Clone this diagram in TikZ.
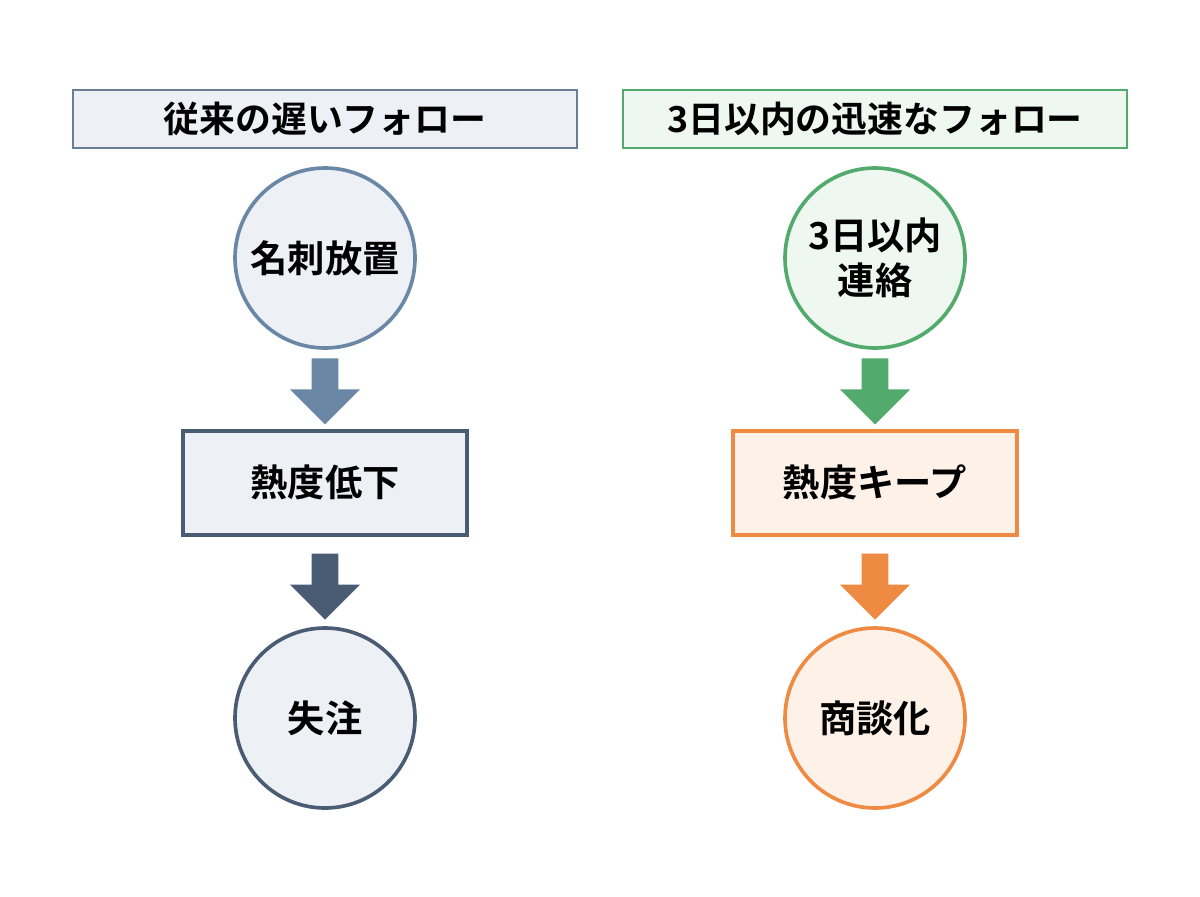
\documentclass[tikz,border=0pt]{standalone}
\usepackage{fontspec}
\setmainfont{Noto Sans CJK JP}[BoldFont={Noto Sans CJK JP Bold}]
\usetikzlibrary{shapes.arrows}
\definecolor{grayfill}{HTML}{EDF0F5}
\definecolor{grayline}{HTML}{6A7F95}
\definecolor{blueline}{HTML}{6A88A5}
\definecolor{darkline}{HTML}{4A5C74}
\definecolor{greenfill}{HTML}{EEF7F0}
\definecolor{greenline}{HTML}{52AA6D}
\definecolor{orangefill}{HTML}{FDF1E8}
\definecolor{orangeline}{HTML}{EE8A42}
\tikzset{
  head/.style={draw, line width=1.2pt, minimum width=12.6cm, minimum height=1.45cm, font=\bfseries\fontsize{25.5}{29}\selectfont},
  ball/.style={circle, draw, line width=2.6pt, minimum size=4.5cm, align=center, font=\bfseries\fontsize{26.5}{32}\selectfont},
  box/.style={draw, line width=2.6pt, minimum width=7.1cm, minimum height=2.6cm, font=\bfseries\fontsize{26.5}{30}\selectfont},
  down/.style={single arrow, rotate=270, minimum height=1.65cm, minimum width=1.75cm, single arrow head extend=0.4cm, single arrow head indent=0pt, inner sep=0.24cm}
}
\begin{document}
\begin{tikzpicture}
  \useasboundingbox (0,0) rectangle (30,-22.4);

  % left column
  \node[head, fill=grayfill, draw=grayline] (hl) at (8.125,-2.975) {従来の遅いフォロー};
  \node[ball, fill=grayfill, draw=blueline] (l1) at (8.125,-6.45) {名刺放置};
  \node[down, fill=blueline] (al1) at (8.125,-9.62) {};
  \node[box, fill=grayfill, draw=darkline] (l2) at (8.125,-12.07) {熱度低下};
  \node[down, fill=darkline] (al2) at (8.125,-14.5) {};
  \node[ball, fill=grayfill, draw=darkline] (l3) at (8.125,-17.95) {失注};

  % right column
  \node[head, fill=greenfill, draw=greenline] (hr) at (21.875,-2.975) {3日以内の迅速なフォロー};
  \node[ball, fill=greenfill, draw=greenline] (r1) at (21.875,-6.45) {3日以内\\連絡};
  \node[down, fill=greenline] (ar1) at (21.875,-9.62) {};
  \node[box, fill=orangefill, draw=orangeline] (r2) at (21.875,-12.07) {熱度キープ};
  \node[down, fill=orangeline] (ar2) at (21.875,-14.5) {};
  \node[ball, fill=orangefill, draw=orangeline] (r3) at (21.875,-17.95) {商談化};
\end{tikzpicture}
\end{document}
